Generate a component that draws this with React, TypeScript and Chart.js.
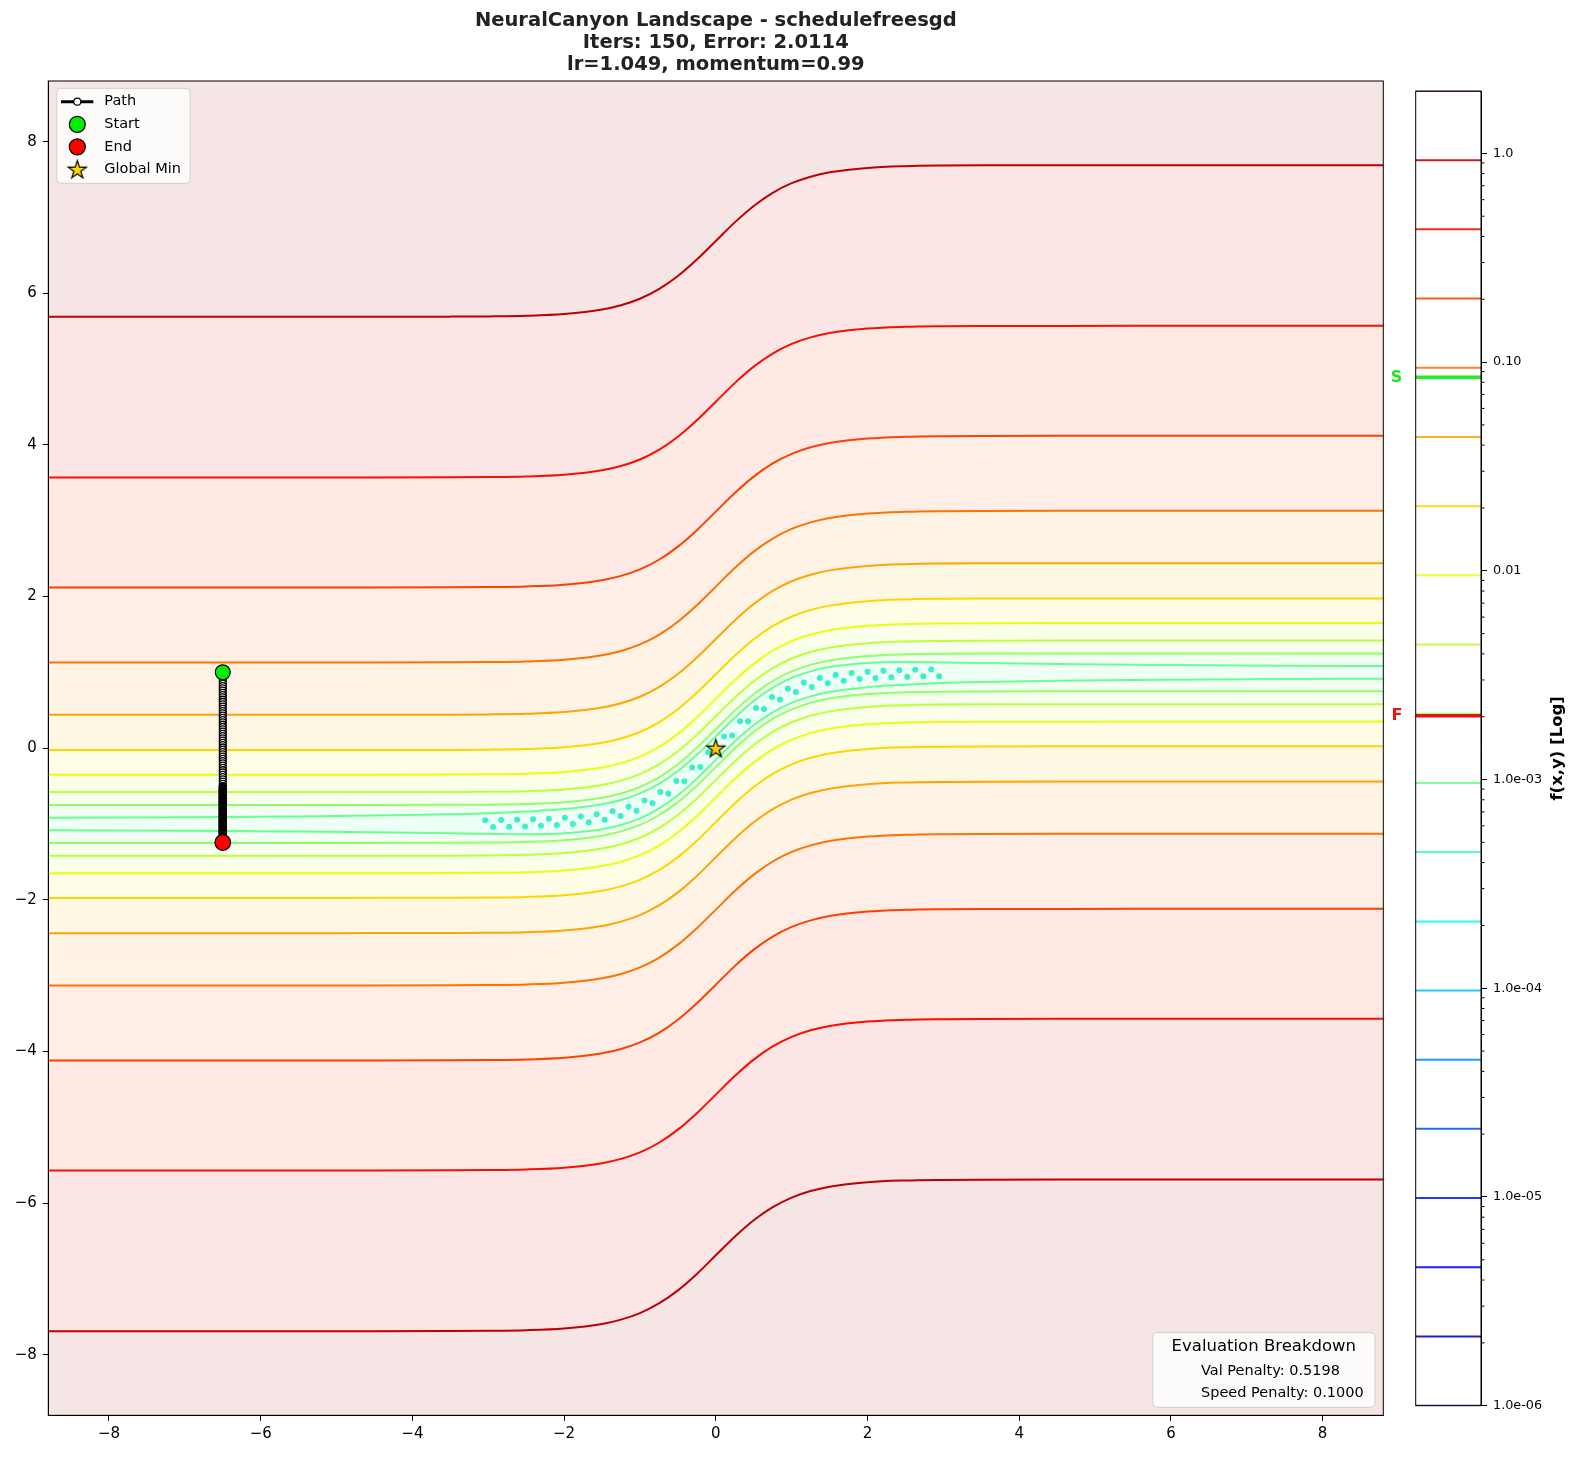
import React, { useEffect, useRef } from 'react';
import { Chart, registerables } from 'chart.js';

Chart.register(...registerables);

const FONT = "'DejaVu Sans', 'Liberation Sans', sans-serif";

// ---- Data ----
const titleLines = [
  'NeuralCanyon Landscape - schedulefreesgd',
  'Iters: 150, Error: 2.0114',
  'lr=1.049, momentum=0.99',
];

const xTicks = [-8, -6, -4, -2, 0, 2, 4, 6, 8];
const yTicks = [-8, -6, -4, -2, 0, 2, 4, 6, 8];

// canyon centre line (valley floor) sampled along x
const profileX = [-8.8, -7, -5.5, -4.5, -3.5, -3, -2.5, -2, -1.5, -1.25, -1, -0.75, -0.5, -0.25, 0, 0.25, 0.5, 0.75, 1, 1.25, 1.5, 2, 2.5, 3, 3.5, 4.5, 5.5, 7, 8.8];
const profileY = [-1, -1, -1, -0.9998, -0.998, -0.995, -0.987, -0.964, -0.905, -0.848, -0.762, -0.635, -0.462, -0.245, 0, 0.245, 0.462, 0.635, 0.762, 0.848, 0.905, 0.964, 0.987, 0.995, 0.998, 0.9998, 1, 1, 1];

// contour levels (index into colorbar levels) and their vertical distance from the valley floor
const contourLevels = [18, 17, 16, 15, 14, 13, 12, 11, 10];
const contourOffsets = [6.69, 4.57, 3.12, 2.13, 1.44, 0.975, 0.65, 0.42, 0.25];
// innermost level (k = 9) distance, per profile sample
const innerOffsets = [0.083, 0.09, 0.1, 0.11, 0.125, 0.135, 0.15, 0.16, 0.165, 0.165, 0.165, 0.163, 0.16, 0.157, 0.155, 0.157, 0.16, 0.163, 0.165, 0.165, 0.165, 0.16, 0.15, 0.135, 0.125, 0.11, 0.1, 0.09, 0.083];

// small closed ripple contours along the valley floor
const rippleDots: [number, number][] = [
  [-3.04, -0.95], [-2.935, -1.039], [-2.83, -0.948], [-2.725, -1.036], [-2.62, -0.945], [-2.515, -1.032],
  [-2.41, -0.939], [-2.305, -1.025], [-2.2, -0.931], [-2.095, -1.015], [-1.99, -0.918], [-1.885, -1.0],
  [-1.78, -0.9], [-1.675, -0.977], [-1.57, -0.872], [-1.465, -0.944], [-1.36, -0.831], [-1.255, -0.895],
  [-1.15, -0.773], [-1.045, -0.825], [-0.94, -0.69], [-0.835, -0.728], [-0.73, -0.578], [-0.625, -0.6],
  [-0.52, -0.433], [-0.415, -0.438], [-0.31, -0.255], [-0.205, -0.247], [-0.1, -0.055], [0.005, -0.04],
  [0.11, 0.155], [0.215, 0.167], [0.32, 0.355], [0.425, 0.356], [0.53, 0.53], [0.635, 0.517],
  [0.74, 0.674], [0.845, 0.643], [0.95, 0.785], [1.055, 0.739], [1.16, 0.866], [1.265, 0.808],
  [1.37, 0.924], [1.475, 0.856], [1.58, 0.964], [1.685, 0.889], [1.79, 0.991], [1.895, 0.911],
  [2.0, 1.009], [2.105, 0.926], [2.21, 1.021], [2.315, 0.936], [2.42, 1.029], [2.525, 0.942],
  [2.63, 1.035], [2.735, 0.947], [2.84, 1.038], [2.945, 0.95],
];

// optimiser path (x fixed at -6.5), 150 iterations + start
const pathX = -6.5;
const pathYEarly = [1.0, 0.97, 0.94, 0.91, 0.88, 0.85, 0.82, 0.79, 0.76, 0.73, 0.7, 0.67, 0.64, 0.61, 0.58, 0.55, 0.52, 0.49, 0.46, 0.43, 0.4, 0.37, 0.34, 0.31, 0.28, 0.25, 0.22, 0.19, 0.16, 0.13, 0.1, 0.07, 0.04, 0.01, -0.02, -0.05, -0.08, -0.11, -0.14, -0.17, -0.2, -0.23, -0.26, -0.29, -0.32, -0.35, -0.38, -0.41, -0.44, -0.47, -0.5];
const pathYLate = [
  -0.508, -0.515, -0.523, -0.53, -0.538, -0.545, -0.553, -0.56, -0.568, -0.575,
  -0.583, -0.59, -0.598, -0.605, -0.613, -0.62, -0.628, -0.635, -0.643, -0.65,
  -0.658, -0.665, -0.673, -0.68, -0.688, -0.695, -0.703, -0.71, -0.718, -0.725,
  -0.733, -0.74, -0.748, -0.755, -0.763, -0.77, -0.778, -0.785, -0.793, -0.8,
  -0.808, -0.815, -0.823, -0.83, -0.838, -0.845, -0.853, -0.86, -0.868, -0.875,
  -0.883, -0.89, -0.898, -0.905, -0.913, -0.92, -0.928, -0.935, -0.943, -0.95,
  -0.958, -0.965, -0.973, -0.98, -0.988, -0.995, -1.003, -1.01, -1.018, -1.025,
  -1.033, -1.04, -1.048, -1.055, -1.063, -1.07, -1.078, -1.085, -1.093, -1.1,
  -1.108, -1.115, -1.123, -1.13, -1.138, -1.145, -1.153, -1.16, -1.168, -1.175,
  -1.183, -1.19, -1.198, -1.205, -1.213, -1.22, -1.228, -1.235, -1.24, -1.245,
];
const startPoint = { x: -6.5, y: 1.0 };
const endPoint = { x: -6.5, y: -1.245 };
const globalMin = { x: 0, y: 0 };

// colour bar
const colorbarLevels = [1.0e-6, 2.146e-6, 4.6e-6, 9.88e-6, 2.12e-5, 4.55e-5, 9.75e-5, 2.09e-4, 4.49e-4, 9.63e-4, 2.066e-3, 4.43e-3, 9.51e-3, 2.04e-2, 4.38e-2, 9.39e-2, 0.2015, 0.4324, 0.9277, 1.99];
const colorbarTicks = [1, 0.1, 0.01, 1e-3, 1e-4, 1e-5, 1e-6];
const colorbarTickLabels = ['1.0', '0.10', '0.01', '1.0e-03', '1.0e-04', '1.0e-05', '1.0e-06'];
const successLevel = 0.0845;
const failLevel = 0.00202;
const colorbarLabel = 'f(x,y) [Log]';

const legendLabels = ['Path', 'Start', 'End', 'Global Min'];
const evalTitle = 'Evaluation Breakdown';
const evalLines = ['Val Penalty: 0.5198', 'Speed Penalty: 0.1000'];

// ---- colour helpers (matplotlib jet) ----
const JET_R = [[0, 0], [0.35, 0], [0.66, 1], [0.89, 1], [1, 0.5]];
const JET_G = [[0, 0], [0.125, 0], [0.375, 1], [0.64, 1], [0.91, 0], [1, 0]];
const JET_B = [[0, 0.5], [0.11, 1], [0.34, 1], [0.65, 0], [1, 0]];
function seg(p: number[][], t: number) {
  if (t <= p[0][0]) return p[0][1];
  for (let i = 1; i < p.length; i++) {
    if (t <= p[i][0]) {
      const f = (t - p[i - 1][0]) / (p[i][0] - p[i - 1][0]);
      return p[i - 1][1] + f * (p[i][1] - p[i - 1][1]);
    }
  }
  return p[p.length - 1][1];
}
function jet(k: number, a = 1) {
  const t = Math.max(0, Math.min(1, k / 19));
  const r = Math.round(seg(JET_R, t) * 255);
  const g = Math.round(seg(JET_G, t) * 255);
  const b = Math.round(seg(JET_B, t) * 255);
  return `rgba(${r},${g},${b},${a})`;
}

function makeStar(outer: number): HTMLCanvasElement {
  const inner = outer * 0.382;
  const size = Math.ceil(outer * 2 + 4);
  const c = document.createElement('canvas');
  c.width = size;
  c.height = size;
  const g = c.getContext('2d')!;
  const cx = size / 2;
  const cy = size / 2 + 0.8;
  g.beginPath();
  for (let i = 0; i < 10; i++) {
    const r = i % 2 === 0 ? outer : inner;
    const a = -Math.PI / 2 + (i * Math.PI) / 5;
    const px = cx + r * Math.cos(a);
    const py = cy + r * Math.sin(a);
    if (i === 0) g.moveTo(px, py);
    else g.lineTo(px, py);
  }
  g.closePath();
  g.fillStyle = '#ffd700';
  g.fill();
  g.lineWidth = 1.2;
  g.strokeStyle = '#000';
  g.stroke();
  return c;
}

function fmtTick(v: number) {
  if (v < 0) return '\u2212' + Math.abs(v);
  return String(v);
}

function roundRect(ctx: CanvasRenderingContext2D, x: number, y: number, w: number, h: number, r: number) {
  ctx.beginPath();
  ctx.moveTo(x + r, y);
  ctx.lineTo(x + w - r, y);
  ctx.arcTo(x + w, y, x + w, y + r, r);
  ctx.lineTo(x + w, y + h - r);
  ctx.arcTo(x + w, y + h, x + w - r, y + h, r);
  ctx.lineTo(x + r, y + h);
  ctx.arcTo(x, y + h, x, y + h - r, r);
  ctx.lineTo(x, y + r);
  ctx.arcTo(x, y, x + r, y, r);
  ctx.closePath();
}

export default function App() {
  const mainRef = useRef<HTMLCanvasElement>(null);
  const cbRef = useRef<HTMLCanvasElement>(null);

  useEffect(() => {
    const star = makeStar(9.5);

    // contour line definitions, top to bottom
    const lines: { k: number; off: number[] }[] = [];
    contourLevels.forEach((k, i) => lines.push({ k, off: profileX.map(() => contourOffsets[i]) }));
    lines.push({ k: 9, off: innerOffsets });
    lines.push({ k: 9, off: innerOffsets.map((v) => -v) });
    for (let i = contourLevels.length - 1; i >= 0; i--) {
      lines.push({ k: contourLevels[i], off: profileX.map(() => -contourOffsets[i]) });
    }

    const datasets: any[] = [];
    lines.forEach((ln, i) => {
      let band: number;
      let fill: any;
      if (i === 0) {
        band = 18.5;
        fill = 'end';
      } else {
        const prev = lines[i - 1].k;
        band = prev === ln.k ? 8.6 : (prev + ln.k) / 2;
        fill = '-1';
      }
      datasets.push({
        type: 'line',
        data: profileX.map((x, j) => ({ x, y: profileY[j] + ln.off[j] })),
        borderColor: jet(ln.k, 1),
        borderWidth: 2,
        pointRadius: 0,
        cubicInterpolationMode: 'monotone',
        fill,
        backgroundColor: jet(band, 0.1),
        order: 20,
      });
    });
    const last = lines[lines.length - 1];
    datasets.push({
      type: 'line',
      data: profileX.map((x, j) => ({ x, y: profileY[j] + last.off[j] })),
      borderWidth: 0,
      borderColor: 'rgba(0,0,0,0)',
      pointRadius: 0,
      cubicInterpolationMode: 'monotone',
      fill: 'start',
      backgroundColor: jet(18.5, 0.1),
      order: 21,
    });
    datasets.push({
      type: 'line',
      data: rippleDots.map(([x, y]) => ({ x, y })),
      showLine: false,
      pointRadius: 3,
      pointBorderWidth: 0,
      pointBackgroundColor: 'rgba(48,238,200,0.95)',
      fill: false,
      order: 10,
    });
    datasets.push({
      type: 'line',
      data: [...pathYEarly, ...pathYLate].map((y) => ({ x: pathX, y })),
      borderColor: '#000',
      borderWidth: 3,
      pointRadius: 3.4,
      pointBorderWidth: 1.3,
      pointBackgroundColor: '#fff',
      pointBorderColor: '#000',
      fill: false,
      order: 3,
    });
    datasets.push({
      type: 'line',
      data: [startPoint],
      showLine: false,
      pointRadius: 7.5,
      pointBorderWidth: 1.2,
      pointBackgroundColor: '#00ee00',
      pointBorderColor: '#000',
      fill: false,
      order: 2,
    });
    datasets.push({
      type: 'line',
      data: [endPoint],
      showLine: false,
      pointRadius: 7.8,
      pointBorderWidth: 1.2,
      pointBackgroundColor: '#ff0000',
      pointBorderColor: '#000',
      fill: false,
      order: 2,
    });
    datasets.push({
      type: 'line',
      data: [globalMin],
      showLine: false,
      pointStyle: star,
      pointRadius: 9,
      fill: false,
      order: 1,
    });

    const decor = {
      id: 'decor',
      afterDatasetsDraw(chart: any) {
        const { ctx, chartArea: a } = chart;
        ctx.save();
        ctx.strokeStyle = '#000';
        ctx.lineWidth = 1;
        ctx.strokeRect(a.left, a.top, a.right - a.left, a.bottom - a.top);
        ctx.restore();
      },
      afterDraw(chart: any) {
        const { ctx, chartArea: a } = chart;
        ctx.save();
        // title
        ctx.fillStyle = '#222';
        ctx.font = `bold 19.5px ${FONT}`;
        ctx.textAlign = 'center';
        ctx.textBaseline = 'middle';
        const cx = (a.left + a.right) / 2;
        [20.5, 42.5, 64.5].forEach((y, i) => ctx.fillText(titleLines[i], cx, y));

        // legend
        roundRect(ctx, 56.7, 88.3, 133.3, 95, 4);
        ctx.fillStyle = 'rgba(255,255,255,0.8)';
        ctx.fill();
        ctx.strokeStyle = '#d0d0d0';
        ctx.lineWidth = 1;
        ctx.stroke();
        const mx = 77.3;
        const rows = [101.7, 124.3, 146.8, 169.3];
        ctx.strokeStyle = '#000';
        ctx.lineWidth = 3;
        ctx.beginPath();
        ctx.moveTo(61, rows[0]);
        ctx.lineTo(93.3, rows[0]);
        ctx.stroke();
        ctx.beginPath();
        ctx.arc(mx, rows[0], 3.5, 0, Math.PI * 2);
        ctx.fillStyle = '#fff';
        ctx.fill();
        ctx.lineWidth = 1.2;
        ctx.stroke();
        [['#00ee00', rows[1]], ['#ff0000', rows[2]]].forEach(([c, y]: any) => {
          ctx.beginPath();
          ctx.arc(mx, y, 8, 0, Math.PI * 2);
          ctx.fillStyle = c;
          ctx.fill();
          ctx.lineWidth = 1.2;
          ctx.strokeStyle = '#000';
          ctx.stroke();
        });
        ctx.drawImage(star, mx - star.width / 2, rows[3] - star.height / 2);
        ctx.fillStyle = '#000';
        ctx.font = `14.5px ${FONT}`;
        ctx.textAlign = 'left';
        ctx.textBaseline = 'middle';
        legendLabels.forEach((t, i) => ctx.fillText(t, 104.3, rows[i]));

        // evaluation breakdown box
        roundRect(ctx, 1152.7, 1332.7, 222.3, 74.6, 4);
        ctx.fillStyle = 'rgba(255,255,255,0.8)';
        ctx.fill();
        ctx.strokeStyle = '#d0d0d0';
        ctx.lineWidth = 1;
        ctx.stroke();
        ctx.fillStyle = '#000';
        ctx.font = `16.5px ${FONT}`;
        ctx.textAlign = 'center';
        ctx.fillText(evalTitle, 1263.8, 1347);
        ctx.font = `14.5px ${FONT}`;
        ctx.textAlign = 'left';
        ctx.fillText(evalLines[0], 1201, 1371);
        ctx.fillText(evalLines[1], 1201, 1393.5);
        ctx.restore();
      },
    };

    const axisCommon = (ticks: number[]) => ({
      type: 'linear',
      min: -8.8,
      max: 8.8,
      afterBuildTicks: (s: any) => {
        s.ticks = ticks.map((v) => ({ value: v }));
      },
      ticks: {
        font: { family: FONT, size: 15 },
        color: '#000',
        maxRotation: 0,
        autoSkip: false,
        callback: (v: any) => fmtTick(Number(v)),
      },
      grid: { drawOnChartArea: false, drawTicks: true, tickLength: 5.5, color: '#000', lineWidth: 1 },
      border: { display: true, color: '#000', width: 1 },
    });

    const xAxis: any = axisCommon(xTicks);
    xAxis.ticks.padding = 4;
    xAxis.afterFit = (s: any) => {
      s.height = 41.7;
    };
    const yAxis: any = axisCommon(yTicks);
    yAxis.ticks.padding = 6;
    yAxis.afterFit = (s: any) => {
      s.width = 48.3;
    };

    const main = new Chart(mainRef.current!, {
      type: 'line',
      data: { datasets },
      options: {
        animation: false,
        responsive: false,
        events: [],
        layout: { padding: { left: 0, top: 81, right: 16.7, bottom: 0 } },
        plugins: {
          legend: { display: false },
          tooltip: { enabled: false },
          title: { display: false },
          filler: { drawTime: 'beforeDatasetsDraw', propagate: false },
        } as any,
        scales: { x: xAxis, y: yAxis },
      } as any,
      plugins: [decor],
    });

    // ---- colour bar ----
    const cbDatasets: any[] = colorbarLevels.map((L, k) => ({
      type: 'line',
      data: [{ x: 0, y: L }, { x: 1, y: L }],
      borderColor: jet(k, 0.88),
      borderWidth: 2,
      pointRadius: 0,
      fill: false,
    }));
    cbDatasets.push({
      type: 'line',
      data: [{ x: 0, y: successLevel }, { x: 1, y: successLevel }],
      borderColor: '#22ee22',
      borderWidth: 3.5,
      pointRadius: 0,
      fill: false,
      order: -1,
    });
    cbDatasets.push({
      type: 'line',
      data: [{ x: 0, y: failLevel }, { x: 1, y: failLevel }],
      borderColor: '#ee1111',
      borderWidth: 3.5,
      pointRadius: 0,
      fill: false,
      order: -1,
    });

    const cbDecor = {
      id: 'cbDecor',
      afterDraw(chart: any) {
        const { ctx, chartArea: a } = chart;
        const ys = chart.scales.y;
        ctx.save();
        ctx.strokeStyle = '#000';
        ctx.lineWidth = 1;
        ctx.strokeRect(a.left, a.top, a.right - a.left, a.bottom - a.top);
        // minor ticks
        ctx.beginPath();
        for (let e = -6; e <= 0; e++) {
          for (let m = 2; m <= 9; m++) {
            const v = m * Math.pow(10, e);
            if (v > 1.99) continue;
            const py = ys.getPixelForValue(v);
            ctx.moveTo(a.right, py);
            ctx.lineTo(a.right + 3.5, py);
          }
        }
        ctx.stroke();
        // S / F markers
        ctx.font = `bold 16px ${FONT}`;
        ctx.textAlign = 'center';
        ctx.textBaseline = 'middle';
        ctx.fillStyle = '#1ee61e';
        ctx.fillText('S', 10.5, ys.getPixelForValue(successLevel));
        ctx.fillStyle = '#e8150f';
        ctx.fillText('F', 11, ys.getPixelForValue(failLevel));
        // label
        ctx.fillStyle = '#000';
        ctx.font = `bold 16.5px ${FONT}`;
        ctx.translate(171.5, (a.top + a.bottom) / 2);
        ctx.rotate(-Math.PI / 2);
        ctx.fillText(colorbarLabel, 0, 0);
        ctx.restore();
      },
    };

    const cb = new Chart(cbRef.current!, {
      type: 'line',
      data: { datasets: cbDatasets },
      options: {
        animation: false,
        responsive: false,
        events: [],
        layout: { padding: { left: 29.7, top: 91, right: 0, bottom: 51.3 } },
        plugins: { legend: { display: false }, tooltip: { enabled: false } },
        scales: {
          x: { type: 'linear', min: 0, max: 1, display: false },
          y: {
            type: 'logarithmic',
            position: 'right',
            min: 1e-6,
            max: 1.99,
            afterBuildTicks: (s: any) => {
              s.ticks = colorbarTicks.map((v) => ({ value: v, major: true }));
            },
            afterFit: (s: any) => {
              s.width = 99;
            },
            ticks: {
              font: { family: FONT, size: 12.8 },
              color: '#000',
              padding: 6,
              autoSkip: false,
              callback: (v: any) => {
                const idx = colorbarTicks.findIndex((t) => Math.abs(Math.log10(t) - Math.log10(Number(v))) < 1e-6);
                return idx >= 0 ? colorbarTickLabels[idx] : '';
              },
            },
            grid: { drawOnChartArea: false, drawTicks: true, tickLength: 6, color: '#000' },
            border: { display: true, color: '#000' },
          },
        },
      } as any,
      plugins: [cbDecor],
    });

    return () => {
      main.destroy();
      cb.destroy();
    };
  }, []);

  return (
    <div style={{ position: 'absolute', left: 0, top: 0, width: 1580, height: 1457, background: '#fff' }}>
      <canvas ref={mainRef} width={1400} height={1457} style={{ position: 'absolute', left: 0, top: 0, width: 1400, height: 1457 }} />
      <canvas ref={cbRef} width={194} height={1457} style={{ position: 'absolute', left: 1386, top: 0, width: 194, height: 1457 }} />
    </div>
  );
}
